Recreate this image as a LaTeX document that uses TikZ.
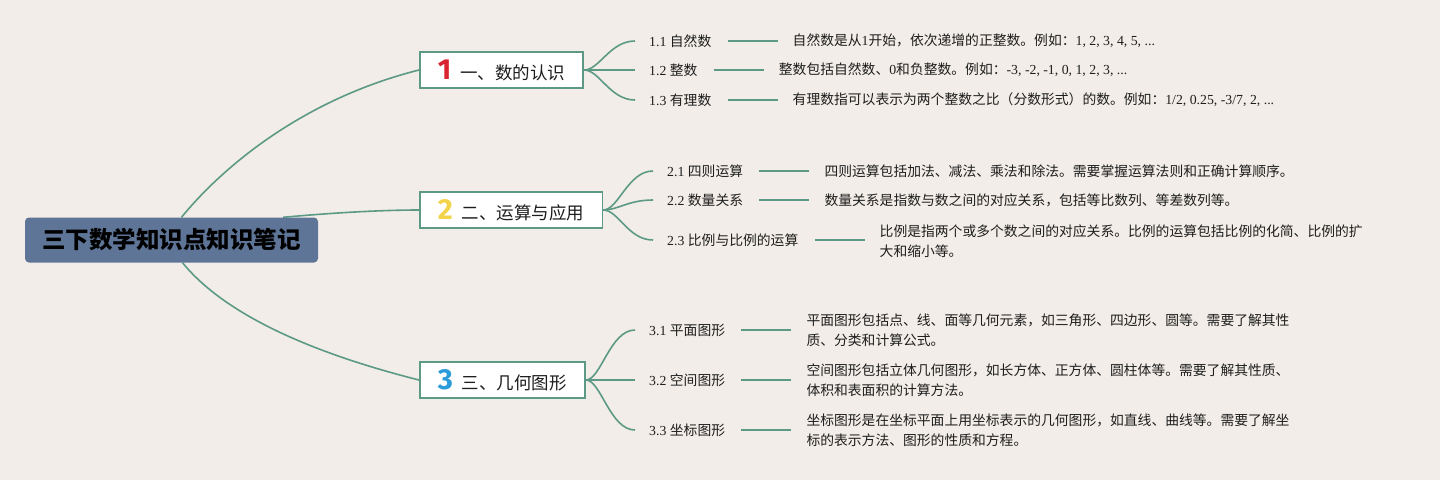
\documentclass[tikz,border=0pt]{standalone}
\usepackage{fontspec}
\setmainfont{Noto Sans CJK SC}
\newfontfamily\latf{Liberation Serif}
\newfontfamily\numf{Fira Sans}
\newcommand\rl[1]{{\latf #1}}
\usetikzlibrary{calc}
\definecolor{bgc}{HTML}{F2EDE8}
\definecolor{rootc}{HTML}{5E7598}
\definecolor{linec}{HTML}{5C9A86}
\definecolor{redc}{HTML}{D9232E}
\definecolor{yelc}{HTML}{F3D34A}
\definecolor{bluc}{HTML}{2B9BD9}
\definecolor{txt}{HTML}{1E1E1E}
\pgfdeclarelayer{bg}
\pgfdeclarelayer{lines}
\pgfsetlayers{bg,lines,main}
\tikzset{
  rootbox/.style={fill=rootc, rounded corners=4pt, minimum width=293pt, minimum height=45pt, inner sep=0pt, text=black, font=\fontsize{23.5}{28}\selectfont\bfseries},
  topic/.style={draw=linec, line width=1.8pt, fill=white, minimum height=36pt, inner xsep=18pt, inner ysep=0pt, anchor=west, text=txt, font=\fontsize{17.5}{20}\selectfont},
  sub/.style={anchor=west, inner sep=0pt, text=txt, font=\fontsize{13.8}{20}\selectfont},
  desc/.style={anchor=west, inner sep=0pt, text=txt, align=left, font=\fontsize{13.8}{20}\selectfont},
  branch/.style={draw=linec, line width=1.6pt},
  twig/.style={draw=linec, line width=2pt},
}
\newcommand\bignum[2]{{\numf\bfseries\fontsize{29}{29}\selectfont\color{#1}#2}\hspace{9pt}}
\begin{document}
\begin{tikzpicture}[x=1pt,y=-1pt]
\begin{pgfonlayer}{bg}
\fill[bgc] (0,0) rectangle (1440,480);
\end{pgfonlayer}
\useasboundingbox (0,0) rectangle (1440,480);

\node[rootbox] (root) at (171.5,240) {三下数学知识点知识笔记};

\node[topic] (b1) at (419,70) {\bignum{redc}{1}一、数的认识};
\node[topic] (b2) at (419,210) {\bignum{yelc}{2}二、运算与应用};
\node[topic] (b3) at (419,380) {\bignum{bluc}{3}三、几何图形};

% level 2 labels
\node[sub] (l11) at (649,41) {\rl{1.1 }自然数};
\node[sub] (l12) at (649,70) {\rl{1.2 }整数};
\node[sub] (l13) at (649,100) {\rl{1.3 }有理数};
\node[sub] (l21) at (667,171) {\rl{2.1 }四则运算};
\node[sub] (l22) at (667,200) {\rl{2.2 }数量关系};
\node[sub] (l23) at (667,240) {\rl{2.3 }比例与比例的运算};
\node[sub] (l31) at (649,330) {\rl{3.1 }平面图形};
\node[sub] (l32) at (649,380) {\rl{3.2 }空间图形};
\node[sub] (l33) at (649,430) {\rl{3.3 }坐标图形};

% descriptions
\node[desc] (d11) at ([xshift=81pt]l11.east) {自然数是从\rl{1}开始，依次递增的正整数。例如：\rl{1, 2, 3, 4, 5, ...}};
\node[desc] (d12) at ([xshift=81pt]l12.east) {整数包括自然数、\rl{0}和负整数。例如：\rl{-3, -2, -1, 0, 1, 2, 3, ...}};
\node[desc] (d13) at ([xshift=81pt]l13.east) {有理数指可以表示为两个整数之比（分数形式）的数。例如：\rl{1/2, 0.25, -3/7, 2, ...}};
\node[desc] (d21) at ([xshift=81pt]l21.east) {四则运算包括加法、减法、乘法和除法。需要掌握运算法则和正确计算顺序。};
\node[desc] (d22) at ([xshift=81pt]l22.east) {数量关系是指数与数之间的对应关系，包括等比数列、等差数列等。};
\node[desc] (d23) at ($(l23.east)+(81,1)$) {比例是指两个或多个数之间的对应关系。比例的运算包括比例的化简、比例的扩\\大和缩小等。};
\node[desc] (d31) at ([xshift=81pt]l31.east) {平面图形包括点、线、面等几何元素，如三角形、四边形、圆等。需要了解其性\\质、分类和计算公式。};
\node[desc] (d32) at ([xshift=81pt]l32.east) {空间图形包括立体几何图形，如长方体、正方体、圆柱体等。需要了解其性质、\\体积和表面积的计算方法。};
\node[desc] (d33) at ([xshift=81pt]l33.east) {坐标图形是在坐标平面上用坐标表示的几何图形，如直线、曲线等。需要了解坐\\标的表示方法、图形的性质和方程。};

\begin{pgfonlayer}{lines}
% root to topics
\draw[branch] ($(root.north)+(10,0)$) .. controls (220,170) and (300,100) .. (b1.west);
\draw[branch] ($(root.north east)+(-35,0)$) .. controls (330,213) and (380,210) .. (b2.west);
\draw[branch] ($(root.south)+(11,0)$) .. controls (221,310) and (300,350) .. (b3.west);
% topics to subtopics
\foreach \b/\l in {b1/l11,b1/l12,b1/l13,b2/l21,b2/l22,b2/l23,b3/l31,b3/l32,b3/l33}{
  \draw[branch] (\b.east) .. controls +(15,0) and +(-25,0) .. ($(\l.west)+(-14,0)$);
}
% subtopics to descriptions
\foreach \l/\d in {l11/d11,l12/d12,l13/d13,l21/d21,l22/d22,l23/d23,l31/d31,l32/d32,l33/d33}{
  \draw[twig] ($(\l.east)+(16,0)$) -- ($(\l.east -| \d.west)+(-15,0)$);
}
\end{pgfonlayer}
\end{tikzpicture}
\end{document}
